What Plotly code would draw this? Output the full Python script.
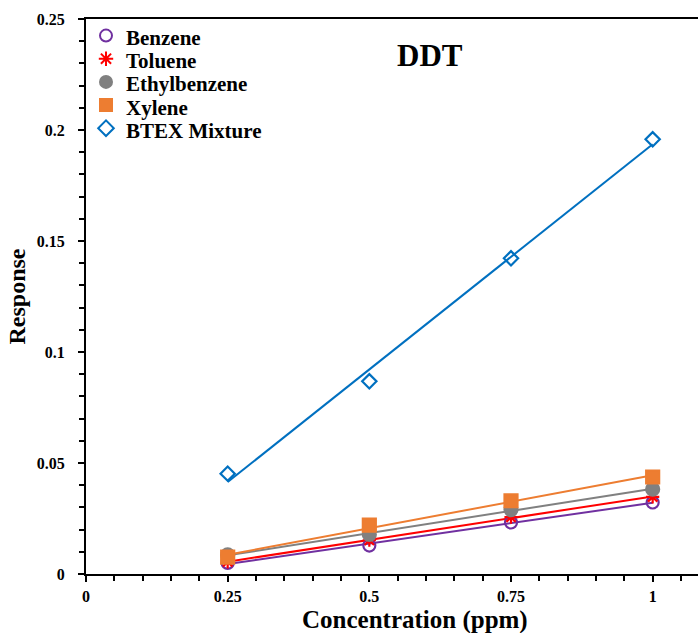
import numpy as np
import plotly.graph_objects as go

conc = [0.25, 0.5, 0.75, 1.0]
benzene = [0.0050, 0.0128, 0.0232, 0.0322]
toluene = [0.0055, 0.0152, 0.0256, 0.0347]
ethylbenzene = [0.0086, 0.0178, 0.0290, 0.0382]
xylene = [0.0076, 0.0220, 0.0330, 0.0437]
btex = [0.0452, 0.0868, 0.1422, 0.1958]

names = ["Benzene", "Toluene", "Ethylbenzene", "Xylene", "BTEX Mixture"]
values = [benzene, toluene, ethylbenzene, xylene, btex]
colors = ["#7030A0", "#FF0000", "#808080", "#ED7D31", "#0070C0"]
symbols = ["circle-open", "asterisk-open", "circle", "square", "diamond-open"]
sizes = [12, 11, 13, 13, 11]

font_family = "Liberation Serif, Times New Roman, serif"

fig = go.Figure()
x = np.array(conc)
for vals, col in zip(values, colors):
    m, b = np.polyfit(x, np.array(vals), 1)
    fig.add_trace(go.Scatter(x=[x.min(), x.max()], y=[m * x.min() + b, m * x.max() + b],
                             mode="lines", line=dict(color=col, width=2), showlegend=False,
                             hoverinfo="skip"))
for name, vals, col, sym, sz in zip(names, values, colors, symbols, sizes):
    fig.add_trace(go.Scatter(x=conc, y=vals, mode="markers", name=" ", hovertext=name,
                             marker=dict(symbol=sym, size=sz, color=col,
                                         line=dict(width=2.2, color=col))))

# legend labels (larger than plotly's legend row height allows)
annotations = []
for i, name in enumerate(names):
    ypx = 38 + i * 23.2
    annotations.append(dict(text="<b>%s</b>" % name, xref="paper", yref="paper",
                            x=(124 - 86) / 612, y=(574 - ypx) / 555,
                            xanchor="left", yanchor="middle", showarrow=False,
                            font=dict(size=21, family=font_family, color="black")))
annotations.append(dict(text="<b>DDT</b>", xref="paper", yref="paper",
                        x=(430 - 86) / 612, y=(574 - 55) / 555, xanchor="center", yanchor="middle",
                        showarrow=False, font=dict(size=31, family=font_family, color="black")))
annotations.append(dict(text="<b>Concentration (ppm)</b>", xref="paper", yref="paper",
                        x=(415 - 86) / 612, y=(574 - 620) / 555, xanchor="center", yanchor="middle",
                        showarrow=False, font=dict(size=25, family=font_family, color="black")))

fig.update_layout(
    width=698, height=633,
    margin=dict(l=86, r=0, t=19, b=59),
    paper_bgcolor="white", plot_bgcolor="white",
    font=dict(family=font_family, color="black"),
    showlegend=True,
    legend=dict(x=0.0, y=1.0, xanchor="left", yanchor="top", bgcolor="rgba(0,0,0,0)",
                font=dict(size=15.5, family=font_family, color="black"),
                tracegroupgap=0, itemsizing="constant"),
    annotations=annotations,
    xaxis=dict(range=[0, 1.08], tickvals=[0, 0.25, 0.5, 0.75, 1], ticktext=["0", "0.25", "0.5", "0.75", "1"],
               showgrid=False, zeroline=False, showline=True, linecolor="black", linewidth=2,
               mirror=True, ticks="outside", ticklen=6, tickwidth=2, tickcolor="black",
               minor=dict(dtick=0.05, ticks="outside", ticklen=5, tickwidth=2, tickcolor="black"),
               ticklabelstandoff=1,
               tickfont=dict(size=16, family=font_family, color="black", weight="bold")),
    yaxis=dict(range=[0, 0.25], tickvals=[0, 0.05, 0.1, 0.15, 0.2, 0.25],
               ticktext=["0", "0.05", "0.1", "0.15", "0.2", "0.25"],
               showgrid=False, zeroline=False, showline=True, linecolor="black", linewidth=2,
               ticks="outside", ticklen=6, tickwidth=2, tickcolor="black",
               minor=dict(dtick=0.01, ticks="outside", ticklen=5, tickwidth=2, tickcolor="black"),
               ticklabelstandoff=10,
               tickfont=dict(size=16, family=font_family, color="black", weight="bold"),
               title=dict(text="<b>Response</b>", font=dict(size=24, family=font_family), standoff=4)),
)

fig.write_html("out.html")
